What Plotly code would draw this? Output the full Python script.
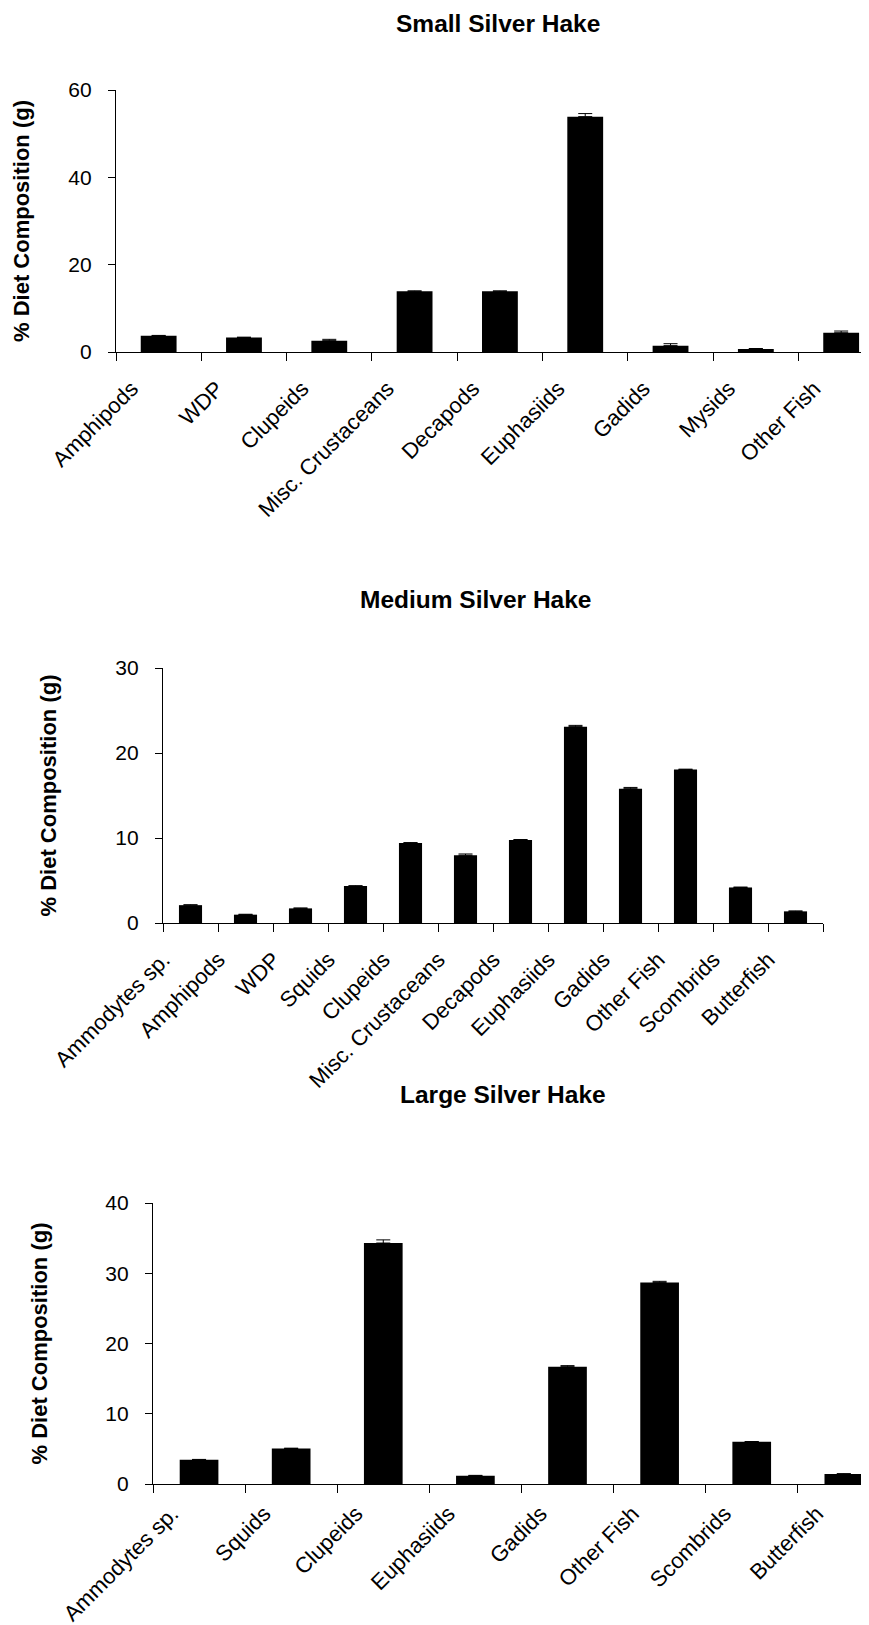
import plotly.graph_objects as go

# ---------------- data ----------------
small_cats = ["Amphipods", "WDP", "Clupeids", "Misc. Crustaceans", "Decapods",
              "Euphasiids", "Gadids", "Mysids", "Other Fish"]
small_vals = [3.7, 3.3, 2.6, 13.9, 13.9, 53.9, 1.45, 0.7, 4.4]
small_err = [0.1, 0.1, 0.3, 0.1, 0.1, 0.7, 0.45, 0.1, 0.4]

medium_cats = ["Ammodytes sp.", "Amphipods", "WDP", "Squids", "Clupeids",
               "Misc. Crustaceans", "Decapods", "Euphasiids", "Gadids",
               "Other Fish", "Scombrids", "Butterfish"]
medium_vals = [2.1, 0.98, 1.72, 4.34, 9.41, 7.97, 9.77, 23.1, 15.8, 18.05, 4.18, 1.37]
medium_err = [0.05, 0.05, 0.05, 0.05, 0.05, 0.15, 0.05, 0.15, 0.15, 0.05, 0.05, 0.05]

large_cats = ["Ammodytes sp.", "Squids", "Clupeids", "Euphasiids", "Gadids",
              "Other Fish", "Scombrids", "Butterfish"]
large_vals = [3.45, 5.05, 34.3, 1.18, 16.7, 28.7, 6.0, 1.42]
large_err = [0.05, 0.05, 0.45, 0.05, 0.15, 0.15, 0.05, 0.05]

titles = ["Small Silver Hake", "Medium Silver Hake", "Large Silver Hake"]
y_title = "% Diet Composition (g)"

# ---------------- layout helpers ----------------
W, H = 869, 1625
FONT = "Arial, 'Liberation Sans', sans-serif"


def ydom(bottom_px, top_px):
    return [1 - bottom_px / H, 1 - top_px / H]


panels = [
    dict(cats=small_cats, vals=small_vals, err=small_err, xd=[108 / W, 1.0],
         yd=ydom(344, 82), yr=[0, 60], dt=20, xr=[-0.5, 8.42],
         tx=490, ty=15, ytx=13, so=14),
    dict(cats=medium_cats, vals=medium_vals, err=medium_err, xd=[155 / W, 815 / W],
         yd=ydom(915, 660), yr=[0, 30], dt=10, xr=[-0.5, 11.5],
         tx=468, ty=591, ytx=40, so=14),
    dict(cats=large_cats, vals=large_vals, err=large_err, xd=[145 / W, 1.0],
         yd=ydom(1476, 1195), yr=[0, 40], dt=10, xr=[-0.5, 7.36],
         tx=495, ty=1086, ytx=31, so=7),
]

fig = go.Figure()
annotations = []
for i, p in enumerate(panels):
    sfx = "" if i == 0 else str(i + 1)
    fig.add_trace(go.Bar(
        x=p["cats"], y=p["vals"], width=0.42,
        marker=dict(color="black", line=dict(width=0)),
        error_y=dict(type="data", symmetric=False, array=p["err"],
                     arrayminus=[0] * len(p["err"]), color="black",
                     thickness=1, width=7),
        xaxis="x" + sfx, yaxis="y" + sfx, showlegend=False,
    ))
    fig.layout["xaxis" + sfx] = dict(
        domain=p["xd"], anchor="y" + sfx, type="category",
        categoryorder="array", categoryarray=p["cats"],
        range=p["xr"], tickson="boundaries", ticks="outside", ticklen=8,
        tickwidth=1.3, tickcolor="black", showline=True, linecolor="black",
        linewidth=1.3, tickangle=-45, showgrid=False, zeroline=False,
        tickfont=dict(family=FONT, size=22, color="black"),
        ticklabelstandoff=p["so"], ticklabelshift=-27, automargin=False,
    )
    fig.layout["yaxis" + sfx] = dict(
        domain=p["yd"], anchor="x" + sfx, range=p["yr"], dtick=p["dt"],
        tick0=0, ticks="outside", ticklen=7, tickwidth=1.3, tickcolor="black",
        showline=True, linecolor="black", linewidth=1.3, showgrid=False,
        zeroline=False, tickfont=dict(family=FONT, size=21, color="black"),
        ticklabelstandoff=12, automargin=False,
    )
    # panel title
    annotations.append(dict(
        text="<b>%s</b>" % titles[i], x=p["tx"] / W, y=1 - p["ty"] / H,
        xref="paper", yref="paper", xanchor="center", yanchor="middle",
        showarrow=False, font=dict(family=FONT, size=24.5, color="black"),
    ))
    # y axis title
    ymid = (p["yd"][0] + p["yd"][1]) / 2
    annotations.append(dict(
        text="<b>%s</b>" % y_title, x=p["ytx"] / W, y=ymid,
        xref="paper", yref="paper", xanchor="center", yanchor="middle",
        textangle=-90, showarrow=False,
        font=dict(family=FONT, size=22, color="black"),
    ))

fig.update_layout(
    width=W, height=H,
    margin=dict(l=0, r=0, t=0, b=0, pad=0, autoexpand=False),
    paper_bgcolor="white", plot_bgcolor="white",
    annotations=annotations, bargap=0.58,
)

fig.write_html("out.html")
